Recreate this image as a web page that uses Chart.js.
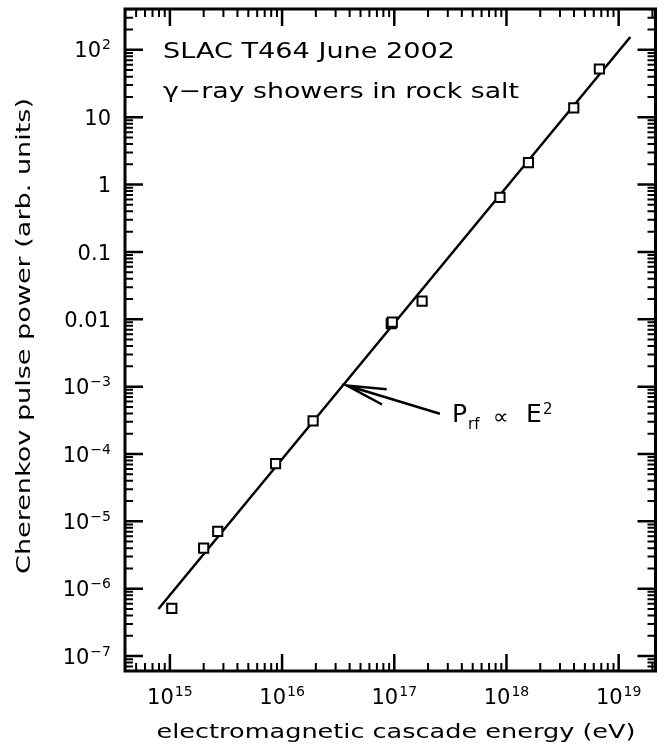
<!DOCTYPE html>
<html>
<head>
<meta charset="utf-8">
<script src="https://cdn.jsdelivr.net/npm/chart.js@4.4.0/dist/chart.umd.min.js"></script>
<style>
  html, body { margin: 0; padding: 0; background: #fff; }
  canvas { display: block; }
</style>
</head>
<body>
<canvas id="plot" width="664" height="747"></canvas>
<script>
const energyEV = [1.04e15, 2.0e15, 2.67e15, 8.75e15, 1.89e16, 9.4e16, 9.6e16, 1.77e17, 8.75e17, 1.57e18, 3.98e18, 6.73e18];
const pulsePower = [5.1e-7, 4.0e-6, 7.1e-6, 7.2e-5, 3.1e-4, 8.6e-3, 9.1e-3, 0.0186, 0.645, 2.12, 13.8, 52];

// P ~ E^2 line end points
const fitEnergy = [7.9e14, 1.27e19];
const fitPower = [5.0e-7, 155];

// arrow: tip, tail
const arrowEnergy = [3.78e16, 2.55e17];
const arrowPower = [1.04e-3, 3.95e-4];

const xTickValues = [1e15, 1e16, 1e17, 1e18, 1e19];
const xTickExp = ['15', '16', '17', '18', '19'];
const yTickValues = [1e-7, 1e-6, 1e-5, 1e-4, 1e-3, 1e-2, 1e-1, 1, 10, 100];
const yTickBase = ['10', '10', '10', '10', '10', '0.01', '0.1', '1', '10', '10'];
const yTickExp = ['−7', '−6', '−5', '−4', '−3', '', '', '', '', '2'];

const xRange = [3.98e14, 2.13e19];
const yRange = [6.43e-8, 404];

const FONT = '"DejaVu Sans", sans-serif';

function decadeTicks(range) {
  const out = [];
  const lo = Math.floor(Math.log10(range[0])), hi = Math.ceil(Math.log10(range[1]));
  for (let e = lo; e <= hi; e++) {
    for (let m = 1; m <= 9; m++) {
      const v = m * Math.pow(10, e);
      if (v >= range[0] && v <= range[1]) out.push({ v: v, major: m === 1 });
    }
  }
  return out;
}

// draw text squeezed/stretched to a width
function fitText(ctx, str, x, y, size, width, align, rot) {
  ctx.font = size + 'px ' + FONT;
  const w = ctx.measureText(str).width;
  ctx.save();
  ctx.translate(x, y);
  if (rot) ctx.rotate(rot);
  ctx.scale(width / w, 1);
  ctx.textAlign = align;
  ctx.fillText(str, 0, 0);
  ctx.restore();
}

function powLabel(ctx, base, exp, x, yb, align) {
  ctx.font = '21px ' + FONT;
  const wb = ctx.measureText(base).width;
  ctx.font = '14px ' + FONT;
  const we = exp ? ctx.measureText(exp).width + 1 : 0;
  const total = wb + we;
  const left = align === 'center' ? x - total / 2 : x - total;
  ctx.textAlign = 'left';
  ctx.font = '21px ' + FONT;
  ctx.fillText(base, left, yb);
  if (exp) {
    ctx.font = '14px ' + FONT;
    ctx.fillText(exp, left + wb + 1, yb - 8);
  }
}

const framePlugin = {
  id: 'frame',
  afterDatasetsDraw(chart) {
    const { ctx, chartArea: a } = chart;
    const x = chart.scales.x, y = chart.scales.y;
    ctx.save();
    ctx.strokeStyle = '#000';
    ctx.fillStyle = '#000';

    // ticks on all four sides, pointing in
    decadeTicks(xRange).forEach(t => {
      const px = x.getPixelForValue(t.v);
      const len = t.major ? 17 : 8;
      ctx.lineWidth = t.major ? 2.5 : 2;
      ctx.beginPath();
      ctx.moveTo(px, a.bottom); ctx.lineTo(px, a.bottom - len);
      ctx.moveTo(px, a.top); ctx.lineTo(px, a.top + len);
      ctx.stroke();
    });
    decadeTicks(yRange).forEach(t => {
      const py = y.getPixelForValue(t.v);
      const len = t.major ? 18 : 8;
      ctx.lineWidth = t.major ? 2.5 : 2;
      ctx.beginPath();
      ctx.moveTo(a.left, py); ctx.lineTo(a.left + len, py);
      ctx.moveTo(a.right, py); ctx.lineTo(a.right - len, py);
      ctx.stroke();
    });

    ctx.lineWidth = 3;
    ctx.strokeRect(a.left, a.top, a.right - a.left, a.bottom - a.top);

    // tick labels
    xTickValues.forEach((v, i) => {
      powLabel(ctx, '10', xTickExp[i], x.getPixelForValue(v), 704, 'center');
    });
    yTickValues.forEach((v, i) => {
      powLabel(ctx, yTickBase[i], yTickExp[i], a.left - 14, y.getPixelForValue(v) + 7.6, 'right');
    });

    // axis titles
    fitText(ctx, 'electromagnetic cascade energy (eV)', 396, 738, 20, 479, 'center');
    ctx.textBaseline = 'middle';
    fitText(ctx, 'Cherenkov pulse power (arb. units)', 25, 336, 20, 476, 'center', -Math.PI / 2);
    ctx.textBaseline = 'alphabetic';

    // notes
    fitText(ctx, 'SLAC T464 June 2002', 163, 58, 21, 292, 'left');
    fitText(ctx, 'γ−ray showers in rock salt', 163, 98, 21, 356, 'left');

    // arrow
    const tipX = x.getPixelForValue(arrowEnergy[0]), tipY = y.getPixelForValue(arrowPower[0]);
    const tailX = x.getPixelForValue(arrowEnergy[1]), tailY = y.getPixelForValue(arrowPower[1]);
    const ang = Math.atan2(tailY - tipY, tailX - tipX);
    ctx.lineWidth = 2.5;
    ctx.beginPath();
    ctx.moveTo(tailX, tailY); ctx.lineTo(tipX, tipY);
    ctx.moveTo(tipX + 40 * Math.cos(ang - 0.2), tipY + 40 * Math.sin(ang - 0.2));
    ctx.lineTo(tipX, tipY);
    ctx.lineTo(tipX + 40 * Math.cos(ang + 0.2), tipY + 40 * Math.sin(ang + 0.2));
    ctx.stroke();

    // P_rf ~ E^2
    ctx.textAlign = 'left';
    ctx.font = '25px ' + FONT;
    ctx.fillText('P', 452, 422);
    ctx.font = '15px ' + FONT;
    ctx.fillText('rf', 468, 429);
    ctx.font = '22px ' + FONT;
    ctx.fillText('∝', 493, 424);
    ctx.font = '25px ' + FONT;
    ctx.fillText('E', 526, 422);
    ctx.font = '15px ' + FONT;
    ctx.fillText('2', 543, 414);
    ctx.restore();
  }
};

const points = energyEV.map((e, i) => ({ x: e, y: pulsePower[i] }));
const fit = fitEnergy.map((e, i) => ({ x: e, y: fitPower[i] }));

new Chart(document.getElementById('plot'), {
  type: 'scatter',
  data: {
    datasets: [
      {
        data: fit,
        showLine: true,
        borderColor: '#000',
        borderWidth: 2.5,
        pointRadius: 0,
        order: 2
      },
      {
        data: points,
        pointStyle: 'rect',
        pointRadius: 6.5,
        borderColor: '#000',
        backgroundColor: '#fff',
        borderWidth: 2,
        order: 1
      }
    ]
  },
  options: {
    responsive: false,
    animation: false,
    layout: { padding: { left: 125, top: 9, right: 7, bottom: 76 } },
    plugins: { legend: { display: false }, tooltip: { enabled: false } },
    scales: {
      x: { type: 'logarithmic', min: xRange[0], max: xRange[1], display: false },
      y: { type: 'logarithmic', min: yRange[0], max: yRange[1], display: false }
    }
  },
  plugins: [framePlugin]
});
</script>
</body>
</html>
